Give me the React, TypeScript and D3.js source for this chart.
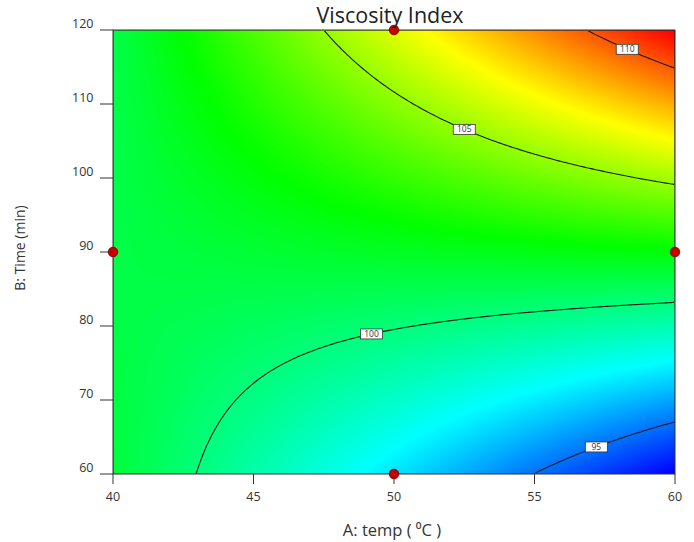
import React from "react";
import * as d3 from "d3";

// axis ranges and ticks
const tempRange = [40, 60];
const timeRange = [60, 120];
const tempTicks = [40, 45, 50, 55, 60];
const timeTicks = [60, 70, 80, 90, 100, 110, 120];

// fitted quadratic model in coded units: 1, A, B, AB, A², B²
const modelCoefs = [101.6, 0.6, 4.63, 4.78, -0.07, 0.12];

// contour lines and where their labels sit (temp)
const contourLevels = [95, 100, 105, 110];
const labelTemps = [57.2, 49.2, 52.5, 58.3];

// design points
const designTemps = [50, 40, 60, 50];
const designTimes = [120, 90, 90, 60];

const W = 694;
const H = 542;
const plot = { left: 113, right: 675, top: 30, bottom: 474 };
const font = "'Open Sans', 'Noto Sans', sans-serif";

const predict = (T: number, t: number) => {
  const a = (T - 50) / 10;
  const b = (t - 90) / 30;
  const c = modelCoefs;
  return c[0] + c[1] * a + c[2] * b + c[3] * a * b + c[4] * a * a + c[5] * b * b;
};

const App: React.FC = () => {
  const x = d3.scaleLinear().domain(tempRange).range([plot.left, plot.right]);
  const y = d3.scaleLinear().domain(timeRange).range([plot.bottom, plot.top]);

  // sample the model on a grid (row 0 = top)
  const n = 220;
  const m = 180;
  const values: number[] = new Array(n * m);
  for (let j = 0; j < m; j++) {
    const t = y.invert(plot.top + ((j + 0.5) / m) * (plot.bottom - plot.top));
    for (let i = 0; i < n; i++) {
      const T = x.invert(plot.left + ((i + 0.5) / n) * (plot.right - plot.left));
      values[j * n + i] = predict(T, t);
    }
  }
  const [lo, hi] = d3.extent(values) as [number, number];

  const color = d3
    .scaleLinear<string>()
    .domain([lo, lo + (hi - lo) * 0.25, lo + (hi - lo) * 0.5, lo + (hi - lo) * 0.75, hi])
    .range(["#0000ff", "#00ffff", "#00ff00", "#ffff00", "#ff0000"])
    .interpolate(d3.interpolateRgb);

  const gx = d3.scaleLinear().domain([0, n]).range([plot.left, plot.right]);
  const gy = d3.scaleLinear().domain([0, m]).range([plot.top, plot.bottom]);
  const path = d3.geoPath(
    d3.geoTransform({
      point(px: number, py: number) {
        (this as any).stream.point(gx(px), gy(py));
      },
    })
  );

  const bands = d3.range(Math.floor(lo * 10) / 10, hi, 0.08);
  const fills = d3.contours().size([n, m]).thresholds(bands)(values);
  const lines = d3.contours().size([n, m]).thresholds(contourLevels)(values);

  // find time on each contour at the label temperature
  const labels = contourLevels.map((lvl, k) => {
    const T = labelTemps[k];
    let a = timeRange[0];
    let b = timeRange[1];
    const fa = predict(T, a) - lvl;
    for (let it = 0; it < 50; it++) {
      const mid = (a + b) / 2;
      const fm = predict(T, mid) - lvl;
      if (Math.sign(fm) === Math.sign(fa)) a = mid;
      else b = mid;
    }
    return { lvl, T, t: (a + b) / 2 };
  });

  return (
    <svg width={W} height={H} style={{ position: "absolute", left: 0, top: 0, background: "#fff" }}>
      <defs>
        <clipPath id="plotClip">
          <rect x={plot.left + 0.7} y={plot.top + 0.7} width={plot.right - plot.left - 1.4} height={plot.bottom - plot.top - 1.4} />
        </clipPath>
      </defs>

      <rect x={plot.left} y={plot.top} width={plot.right - plot.left} height={plot.bottom - plot.top} fill={color(lo)} />
      <g>
        {fills.map((c, i) => (
          <path key={i} d={path(c as any) || ""} fill={color(c.value + 0.04)} />
        ))}
      </g>

      <g clipPath="url(#plotClip)">
        {lines.map((c, i) => (
          <path key={i} d={path(c as any) || ""} fill="none" stroke="#1a1a1a" strokeWidth={1.1} />
        ))}
      </g>

      {labels.map((l) => (
        <g key={l.lvl} transform={`translate(${x(l.T)},${y(l.t)})`}>
          <rect x={-11} y={-5} width={22} height={10} fill="#fff" stroke="#333" strokeWidth={0.8} />
          <text textAnchor="middle" dy="0.35em" fontSize={8.5} fontFamily={font} fill="#333">
            {l.lvl}
          </text>
        </g>
      ))}

      {/* frame */}
      <rect x={plot.left} y={plot.top} width={plot.right - plot.left} height={plot.bottom - plot.top} fill="none" stroke="#333" strokeWidth={1} />

      {/* y axis */}
      {timeTicks.map((t) => (
        <g key={t}>
          <line x1={plot.left - 13} x2={plot.left} y1={y(t)} y2={y(t)} stroke="#333" />
          <text x={plot.left - 19.5} y={y(t)} dy="-0.2em" textAnchor="end" fontSize={12.5} fontFamily={font} fill="#333">
            {t}
          </text>
        </g>
      ))}

      {/* x axis */}
      {tempTicks.map((T) => (
        <g key={T}>
          <line x1={x(T)} x2={x(T)} y1={plot.bottom} y2={plot.bottom + 10} stroke="#333" />
          <text x={x(T)} y={plot.bottom + 27} textAnchor="middle" fontSize={12.5} fontFamily={font} fill="#333">
            {T}
          </text>
        </g>
      ))}

      {/* design points */}
      {designTemps.map((T, i) => (
        <circle key={i} cx={x(T)} cy={y(designTimes[i])} r={4.8} fill="#c80000" stroke="#700000" strokeWidth={0.8} />
      ))}

      <text x={390} y={23} textAnchor="middle" fontSize={21.5} fontFamily={font} fill="#222">
        Viscosity Index
      </text>
      <text x={392} y={536} textAnchor="middle" fontSize={16.5} fontFamily={font} fill="#333">
        A: temp ( <tspan>⁰</tspan>C )
      </text>
      <text
        transform={`translate(25,${(plot.top + plot.bottom) / 2 - 4}) rotate(-90)`}
        textAnchor="middle"
        fontSize={14}
        fontFamily={font}
        fill="#333"
      >
        B: Time (min)
      </text>
    </svg>
  );
};

export default App;
